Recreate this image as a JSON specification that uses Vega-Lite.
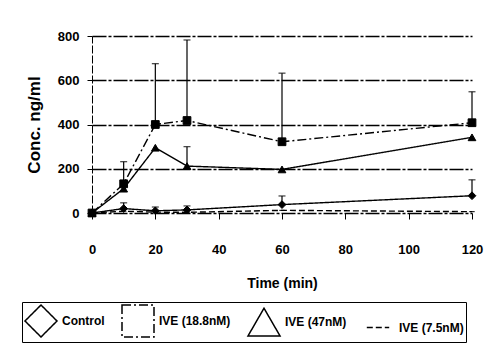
{
  "$schema": "https://vega.github.io/schema/vega-lite/v6.json",
  "autosize": "none",
  "width": 380,
  "height": 177,
  "padding": {"left": 92, "top": 36, "right": 14, "bottom": 143},
  "background": "white",
  "config": {
    "font": "Liberation Sans",
    "view": {"stroke": null},
    "axis": {"labelFont": "Liberation Sans", "labelFontWeight": "bold", "labelFontSize": 13, "labelColor": "black", "titleColor": "black", "titleFont": "Liberation Sans", "titleFontWeight": "bold", "domainColor": "black", "tickColor": "black"}
  },
  "data": {"values": [
    {"series": "Control", "time": 0, "conc": 0, "upper": null},
    {"series": "Control", "time": 10, "conc": 20, "upper": 46},
    {"series": "Control", "time": 20, "conc": 10, "upper": 27},
    {"series": "Control", "time": 30, "conc": 14, "upper": 32},
    {"series": "Control", "time": 60, "conc": 38, "upper": 77},
    {"series": "Control", "time": 120, "conc": 78, "upper": 150},
    {"series": "IVE (18.8nM)", "time": 0, "conc": 0, "upper": null},
    {"series": "IVE (18.8nM)", "time": 10, "conc": 132, "upper": 232},
    {"series": "IVE (18.8nM)", "time": 20, "conc": 400, "upper": 675},
    {"series": "IVE (18.8nM)", "time": 30, "conc": 418, "upper": 782},
    {"series": "IVE (18.8nM)", "time": 60, "conc": 322, "upper": 632},
    {"series": "IVE (18.8nM)", "time": 120, "conc": 408, "upper": 548},
    {"series": "IVE (47nM)", "time": 0, "conc": 0, "upper": null},
    {"series": "IVE (47nM)", "time": 10, "conc": 110, "upper": null},
    {"series": "IVE (47nM)", "time": 20, "conc": 295, "upper": null},
    {"series": "IVE (47nM)", "time": 30, "conc": 212, "upper": 300},
    {"series": "IVE (47nM)", "time": 60, "conc": 197, "upper": null},
    {"series": "IVE (47nM)", "time": 120, "conc": 342, "upper": null},
    {"series": "IVE (7.5nM)", "time": 0, "conc": 0, "upper": null},
    {"series": "IVE (7.5nM)", "time": 10, "conc": 8, "upper": null},
    {"series": "IVE (7.5nM)", "time": 20, "conc": 4, "upper": null},
    {"series": "IVE (7.5nM)", "time": 30, "conc": 3, "upper": null},
    {"series": "IVE (7.5nM)", "time": 60, "conc": 12, "upper": null},
    {"series": "IVE (7.5nM)", "time": 120, "conc": 6, "upper": null}
  ]},
  "encoding": {
    "x": {"field": "time", "type": "quantitative", "scale": {"domain": [0, 120], "nice": false},
      "axis": {"title": "Time (min)", "titleFontSize": 14, "values": [0, 20, 40, 60, 80, 100, 120], "grid": false, "tickSize": 6, "labelPadding": 24, "titlePadding": 20, "domain": false, "labelFlush": false}},
    "y": {"field": "conc", "type": "quantitative", "scale": {"domain": [0, 800], "nice": false},
      "axis": {"title": "Conc. ng/ml", "titleFontSize": 17, "titlePadding": 14, "values": [0, 200, 400, 600, 800], "grid": true, "gridColor": "black", "gridOpacity": 1, "gridWidth": 1.3, "gridDash": [14, 2, 3, 2], "tickSize": 5, "labelPadding": 8, "domainDash": [8, 2]}}
  },
  "layer": [
    {
      "transform": [{"filter": "datum.upper != null"}],
      "mark": {"type": "rule", "color": "black", "strokeWidth": 1.2},
      "encoding": {"y2": {"field": "upper"}}
    },
    {
      "transform": [{"filter": "datum.upper != null"}],
      "mark": {"type": "tick", "color": "black", "size": 7, "thickness": 1.3, "orient": "horizontal"},
      "encoding": {"y": {"field": "upper", "type": "quantitative"}}
    },
    {
      "mark": {"type": "line", "color": "black", "strokeWidth": 1.4},
      "encoding": {
        "detail": {"field": "series", "type": "nominal"},
        "strokeDash": {"field": "series", "type": "nominal", "scale": {"domain": ["Control", "IVE (18.8nM)", "IVE (47nM)", "IVE (7.5nM)"], "range": [[1, 0], [9, 3, 2, 3], [1, 0], [6, 3]]}}
      }
    },
    {
      "mark": {"type": "point", "filled": true, "color": "black", "stroke": "black", "strokeWidth": 1, "opacity": 1, "size": 60},
      "encoding": {
        "shape": {"field": "series", "type": "nominal",
          "scale": {"domain": ["Control", "IVE (18.8nM)", "IVE (47nM)", "IVE (7.5nM)"], "range": ["diamond", "square", "triangle-up", "M-0.7,0H0.7"]},
          "legend": {
            "title": null, "orient": "none", "legendX": -70, "legendY": 266, "direction": "horizontal", "columns": 4,
            "strokeColor": "black", "padding": 2, "columnPadding": 14,
            "symbolSize": 1024, "labelFont": "Liberation Sans", "labelFontWeight": "bold", "labelFontSize": 12, "labelColor": "black", "labelOffset": 4,
            "encode": {"symbols": {"update": {
              "shape": {"signal": "datum.value === 'Control' ? 'M-1,0H1M0,-0.27L0.22,0L0,0.27L-0.22,0Z' : datum.value === 'IVE (18.8nM)' ? 'M-1,0H1M-0.22,-0.22H0.22V0.22H-0.22Z' : datum.value === 'IVE (47nM)' ? 'M-1,0H1M0,-0.29L0.25,0.2H-0.25Z' : 'M-1,0H-0.8M-0.62,0H-0.42M-0.24,0H1'"},
              "fill": {"value": "black"}, "stroke": {"value": "black"}, "strokeWidth": {"value": 1.3}, "strokeDash": {"value": [1, 0]}, "opacity": {"value": 1}
            }}}
          }
        }
      }
    }
  ]
}
